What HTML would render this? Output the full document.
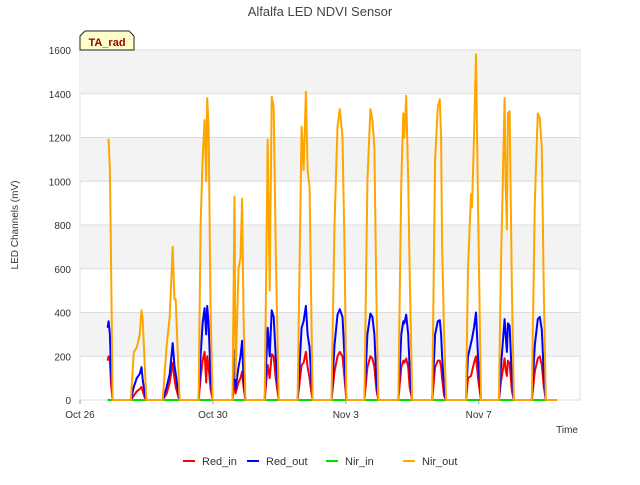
<!DOCTYPE html>
<html><head><meta charset="utf-8"><style>
body{margin:0;background:#fff;font-family:"Liberation Sans","DejaVu Sans",sans-serif}
</style></head><body>
<svg id="c" width="640" height="480" xmlns="http://www.w3.org/2000/svg" font-family="Liberation Sans, DejaVu Sans, sans-serif">
<rect width="640" height="480" fill="#fff"/>
<text x="320" y="16" text-anchor="middle" font-size="13" fill="#444">Alfalfa LED NDVI Sensor</text>
<g id="bands"></g>
<g id="grid"></g>
<g id="series"></g>
<g id="axes"></g>
<text transform="translate(18,225) rotate(-90)" text-anchor="middle" font-size="10" fill="#333">LED Channels (mV)</text>
<text x="578" y="433" text-anchor="end" font-size="10" fill="#333">Time</text>
<g>
<path d="M80,50 L80,36 L85,31 L129,31 L134,36 L134,50 Z" fill="#ffffcc" stroke="#222" stroke-width="1"/>
<text x="107" y="46" text-anchor="middle" font-size="11" font-weight="bold" fill="#990000">TA_rad</text>
</g>
<g id="legend"></g>
</svg>
<script>
const tickLabelsY=[0,200,400,600,800,1000,1200,1400,1600];
const tickDaysX=[0,4,8,12];
const tickLabelsX=["Oct 26","Oct 30","Nov 3","Nov 7"];
const seriesNames=["Red_in","Red_out","Nir_in","Nir_out"];
const times=[0.83,0.86,0.9,0.93,0.98,
1.53,1.62,1.71,1.80,1.85,1.89,1.95,2.0,
2.49,2.61,2.70,2.79,2.84,2.88,2.97,3.0,
3.57,3.63,3.69,3.75,3.80,3.83,3.87,3.93,3.99,
4.59,4.65,4.68,4.77,4.83,4.88,4.92,4.98,
5.56,5.65,5.71,5.77,5.83,5.89,5.98,
6.55,6.67,6.73,6.80,6.85,6.91,6.94,7.0,
7.57,7.66,7.75,7.82,7.90,7.96,8.02,
8.56,8.65,8.74,8.80,8.86,8.92,8.98,
9.58,9.67,9.73,9.76,9.82,9.88,9.92,10.0,
10.6,10.69,10.77,10.83,10.87,10.9,10.96,11.02,
11.62,11.68,11.77,11.80,11.86,11.92,11.98,12.07,
12.61,12.67,12.78,12.81,12.85,12.88,12.93,13.0,13.06,
13.6,13.69,13.78,13.84,13.9,13.96,14.02,14.35];
const nirOut=[1190,1190,1050,700,0,
0,220,240,300,410,360,150,0,
0,250,380,700,460,460,100,0,
0,800,1100,1280,1000,1380,1250,400,0,
0,930,100,600,650,920,400,0,
0,1190,500,1385,1340,700,0,
0,1250,1050,1410,1050,970,640,0,
0,800,1250,1330,1200,700,0,
0,1000,1330,1280,1150,500,0,
0,1000,1310,1200,1390,1000,600,0,
0,1100,1340,1375,1200,700,300,0,
0,600,940,880,1200,1580,900,0,
0,600,1380,1000,780,1310,1320,500,0,
0,900,1310,1290,1150,500,0,0];
const redOut=[330,360,300,150,0,
0,60,100,120,150,90,30,0,
0,60,120,260,160,120,20,0,
0,200,350,420,300,430,350,100,0,
0,230,50,150,200,270,100,0,
0,330,200,410,380,200,0,
0,330,360,430,300,240,150,0,
0,250,390,415,380,200,0,
0,300,395,380,300,100,0,
0,300,360,350,390,300,150,0,
0,300,360,365,300,200,50,0,
0,200,260,280,330,400,200,0,
0,150,370,300,220,350,340,100,0,
0,250,370,380,320,120,0,0];
const redIn=[180,200,180,80,0,
0,20,40,50,60,40,10,0,
0,30,80,170,100,60,10,0,
0,100,180,220,80,200,150,50,0,
0,100,30,80,100,130,60,0,
0,160,100,210,200,100,0,
0,160,170,220,150,100,60,0,
0,130,200,220,200,100,0,
0,150,200,190,150,50,0,
0,150,180,170,190,150,60,0,
0,150,180,180,150,100,20,0,
0,100,110,130,170,200,100,0,
0,80,190,140,110,180,170,40,0,
0,130,190,200,160,60,0,0];
const nirIn=times.map(()=>0);
const colors=["#ff0000","#0000ff","#00dd00","#ffa500"];
const X0=80,X1=580,Y0=400,Y1=50,DMAX=15.05,VMAX=1600;
const xs=d=>X0+d/DMAX*(X1-X0);
const ys=v=>Y0-v/VMAX*(Y0-Y1);
const NS="http://www.w3.org/2000/svg";
function mk(t,a,p){const e=document.createElementNS(NS,t);for(const k in a)e.setAttribute(k,a[k]);p.appendChild(e);return e;}
const bands=document.getElementById('bands'),grid=document.getElementById('grid'),axes=document.getElementById('axes'),ser=document.getElementById('series'),leg=document.getElementById('legend');
const bg=mk('rect',{x:X0,y:Y1,width:X1-X0,height:Y0-Y1,fill:'#fff',stroke:'#ddd'},bands);


for(let i=0;i<tickLabelsY.length-1;i++){
  if(i%2===1){const b=mk('rect',{x:X0,y:ys(tickLabelsY[i+1]),width:X1-X0,height:ys(tickLabelsY[i])-ys(tickLabelsY[i+1]),fill:'#f3f3f3'},bands);
  
  }
}
tickLabelsY.forEach(v=>{
  const l=mk('line',{x1:X0,x2:X1,y1:ys(v),y2:ys(v),stroke:'#dcdcdc','stroke-width':1},grid);
  
  
  const t=mk('text',{x:X0-9,y:ys(v)+4,'text-anchor':'end','font-size':10,fill:'#333'},axes);
  t.textContent=v;
  
  
});
tickDaysX.forEach((d,i)=>{
  const l=mk('line',{x1:xs(d),x2:xs(d),y1:Y0,y2:Y0+4,stroke:'#999'},axes);
  
  
  const t=mk('text',{x:xs(d),y:Y0+18,'text-anchor':'middle','font-size':10,fill:'#333'},axes);
  t.textContent=tickLabelsX[i];
  
  
});
const vals=[redIn,redOut,nirIn,nirOut];
vals.forEach((arr,s)=>{
  const d=arr.map((v,i)=>(i?'L':'M')+xs(times[i]).toFixed(1)+','+ys(v).toFixed(1)).join(' ');
  const p=mk('path',{d:d,fill:'none',stroke:colors[s],'stroke-width':2,'stroke-linejoin':'round'},ser);
  
  
});
const legX=[183,247,326,403];
seriesNames.forEach((n,i)=>{
  const g=mk('g',{},leg);
  
  
  mk('line',{x1:legX[i],x2:legX[i]+12,y1:461,y2:461,stroke:colors[i],'stroke-width':2},g);
  const t=mk('text',{x:legX[i]+19,y:465,'font-size':11,fill:'#333'},g);
  t.textContent=n;
});
</script>
</body></html>
